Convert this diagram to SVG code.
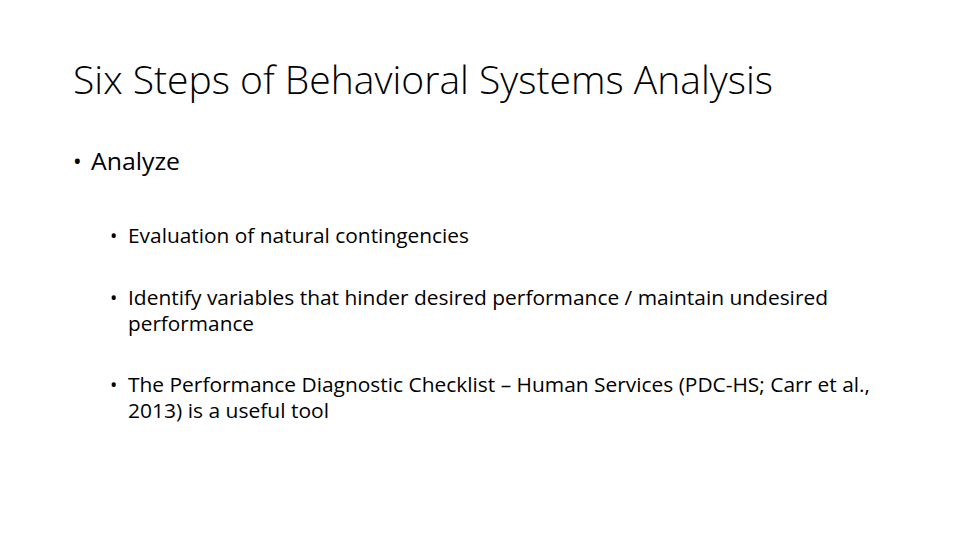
<svg xmlns="http://www.w3.org/2000/svg" width="960" height="540" viewBox="0 0 960 540">
<style>
text{font-family:"Open Sans","Liberation Sans",sans-serif;fill:#000}
.t{font-size:38px;font-weight:300}
.l1{font-size:23px}
.l2{font-size:19.5px}
</style>
<rect width="960" height="540" fill="#fff"/>
<g id="title"><text class="t" x="73" y="94" textLength="700" lengthAdjust="spacingAndGlyphs">Six Steps of Behavioral Systems Analysis</text></g>
<g id="b1"><text class="l1" x="73" y="170">•</text><text class="l1" x="91" y="170" textLength="89" lengthAdjust="spacingAndGlyphs">Analyze</text></g>
<g id="b2"><text class="l2" x="110" y="243">•</text><text class="l2" x="128" y="243" textLength="341" lengthAdjust="spacingAndGlyphs">Evaluation of natural contingencies</text></g>
<g id="b3"><text class="l2" x="110" y="305">•</text><text class="l2" x="128" y="305" textLength="700" lengthAdjust="spacingAndGlyphs">Identify variables that hinder desired performance / maintain undesired</text><text class="l2" x="128" y="331" textLength="126" lengthAdjust="spacingAndGlyphs">performance</text></g>
<g id="b4"><text class="l2" x="110" y="392">•</text><text class="l2" x="128" y="392" textLength="742" lengthAdjust="spacingAndGlyphs">The Performance Diagnostic Checklist – Human Services (PDC-HS; Carr et al.,</text><text class="l2" x="128" y="418" textLength="201" lengthAdjust="spacingAndGlyphs">2013) is a useful tool</text></g>
</svg>
